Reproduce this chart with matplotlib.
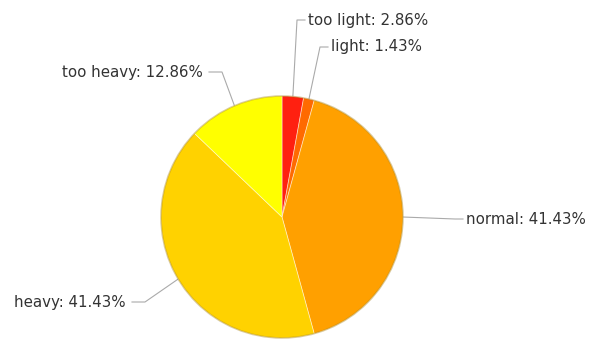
import numpy as np
import matplotlib
matplotlib.use("Agg")
import matplotlib.pyplot as plt
from matplotlib.patches import Circle

# datos del grafico
categorias = ["too light", "light", "normal", "heavy", "too heavy"]
porcentajes = [2.86, 1.43, 41.43, 41.43, 12.86]
colores = ["#FF2010", "#FF6A00", "#FFA000", "#FFD200", "#FFFF00"]

# codo de cada linea guia (pixeles, y desde arriba) y lado del texto
codos = [(297, 20), (320, 47), (455, 219), (145, 302), (222, 72)]
lados = ["right", "right", "right", "left", "left"]

W, H = 591, 340
cx, cy, r = 282, 217, 121

fig = plt.figure(figsize=(W / 100, H / 100), dpi=100)
ax = fig.add_axes([0, 0, 1, 1])
ax.set_xlim(0, W)
ax.set_ylim(0, H)
ax.set_aspect("equal")
ax.axis("off")

wedges, _ = ax.pie(porcentajes, colors=colores, startangle=90, counterclock=False,
                   center=(cx, H - cy), radius=r,
                   wedgeprops=dict(linewidth=0.6, edgecolor=(1, 1, 1, 0.5)))
ax.add_patch(Circle((cx, H - cy), r, fill=False, edgecolor=(0.6, 0.45, 0.0, 0.35), lw=1.2))
ax.set_xlim(0, W)
ax.set_ylim(0, H)

for w, cat, p, (ex, ey), lado in zip(wedges, categorias, porcentajes, codos, lados):
    ang = np.deg2rad((w.theta1 + w.theta2) / 2)
    px = cx + r * np.cos(ang)
    py = (H - cy) + r * np.sin(ang)
    ey2 = H - ey
    if lado == "right":
        hx = ex + 8
        tx, ha = hx + 3, "left"
    else:
        hx = ex - 13
        tx, ha = hx - 6, "right"
    ax.plot([px, ex, hx], [py, ey2, ey2], color="#aaaaaa", lw=0.8, zorder=0)
    ax.text(tx, ey2, f"{cat}: {p:.2f}%", ha=ha, va="center", fontsize=10.8,
            color="#333333", family="DejaVu Sans")

fig.savefig("out.png", dpi=100)
